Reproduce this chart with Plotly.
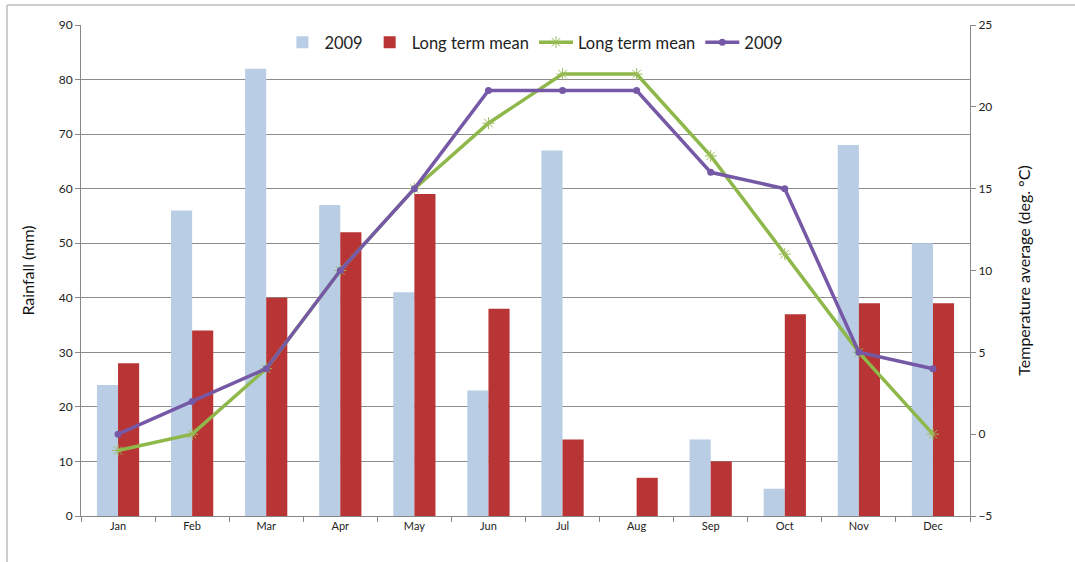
import plotly.graph_objects as go

months = ["Jan", "Feb", "Mar", "Apr", "May", "Jun",
          "Jul", "Aug", "Sep", "Oct", "Nov", "Dec"]

# Monthly rainfall (mm)
rain_2009 = [24, 56, 82, 57, 41, 23, 67, 0, 14, 5, 68, 50]
rain_mean = [28, 34, 40, 52, 59, 38, 14, 7, 10, 37, 39, 39]

# Monthly average temperature (deg. C)
temp_mean = [-1, 0, 4, 10, 15, 19, 22, 22, 17, 11, 5, 0]
temp_2009 = [0, 2, 4, 10, 15, 21, 21, 21, 16, 15, 5, 4]

FONT = "Lato, 'Open Sans', sans-serif"
W, H = 1075, 562
L, R, T, B = 81, 105, 25, 46

fig = go.Figure()

fig.add_trace(go.Bar(
    x=months, y=rain_2009, name="2009",
    marker=dict(color="#B9CDE5", line=dict(width=0)),
))
fig.add_trace(go.Bar(
    x=months, y=rain_mean, name="Long term mean",
    marker=dict(color="#B93434", line=dict(width=0)),
))
fig.add_trace(go.Scatter(
    x=months, y=temp_mean, name="Long term mean", yaxis="y2",
    mode="lines+markers",
    line=dict(color="#8EB84A", width=3.5),
    marker=dict(symbol="asterisk-open", size=10,
                color="#9BBB59", line=dict(color="#9BBB59", width=1)),
))
fig.add_trace(go.Scatter(
    x=months, y=temp_2009, name="2009", yaxis="y2",
    mode="lines+markers",
    line=dict(color="#7659A6", width=3.5),
    marker=dict(symbol="circle", size=7, color="#7659A6"),
))

# Outer chart frame (left and top edges)
px = W - L - R
py = H - T - B
fx0 = (7 - L) / px
fy1 = 1 + (T - 5) / py
fig.add_shape(type="line", xref="paper", yref="paper",
              x0=fx0, x1=fx0, y0=-0.2, y1=fy1,
              line=dict(color="#BDBDBD", width=1.5))
fig.add_shape(type="line", xref="paper", yref="paper",
              x0=fx0, x1=1.2, y0=fy1, y1=fy1,
              line=dict(color="#BDBDBD", width=1.5))

fig.update_layout(
    width=W, height=H,
    margin=dict(l=L, r=R, t=T, b=B),
    paper_bgcolor="white", plot_bgcolor="white",
    font=dict(family=FONT, color="#222222"),
    barmode="group", bargap=0.43, bargroupgap=0,
    showlegend=True,
    legend=dict(orientation="h", x=0.51, xanchor="center",
                y=1.0, yanchor="top",
                font=dict(size=16.5, family=FONT, color="#222222"),
                bgcolor="rgba(0,0,0,0)", itemwidth=34,
                traceorder="normal", tracegroupgap=0),
    xaxis=dict(
        type="category", tickson="boundaries", ticks="outside",
        ticklen=5, tickcolor="#888888",
        showline=True, linecolor="#888888", linewidth=1,
        showgrid=False, tickfont=dict(size=11, family=FONT, color="#222222"),
        range=[-0.5, 11.5],
    ),
    yaxis=dict(
        range=[0, 90], dtick=10, ticks="outside", ticklen=5,
        tickcolor="#888888", showline=True, linecolor="#888888",
        showgrid=True, gridcolor="#8C8C8C", gridwidth=1,
        zeroline=False,
        tickfont=dict(size=12, family=FONT, color="#222222"),
        title=dict(text="Rainfall (mm)", standoff=20,
                   font=dict(size=16, family=FONT, color="#111111")),
    ),
    yaxis2=dict(
        overlaying="y", side="right",
        range=[-5, 25], dtick=5, ticks="outside", ticklen=5,
        tickcolor="#888888", showline=True, linecolor="#888888",
        showgrid=False, zeroline=False,
        tickfont=dict(size=12, family=FONT, color="#222222"),
        title=dict(text="Temperature average (deg. °C)", standoff=27,
                   font=dict(size=16, family=FONT, color="#111111")),
    ),
)

fig.write_html("out.html")
